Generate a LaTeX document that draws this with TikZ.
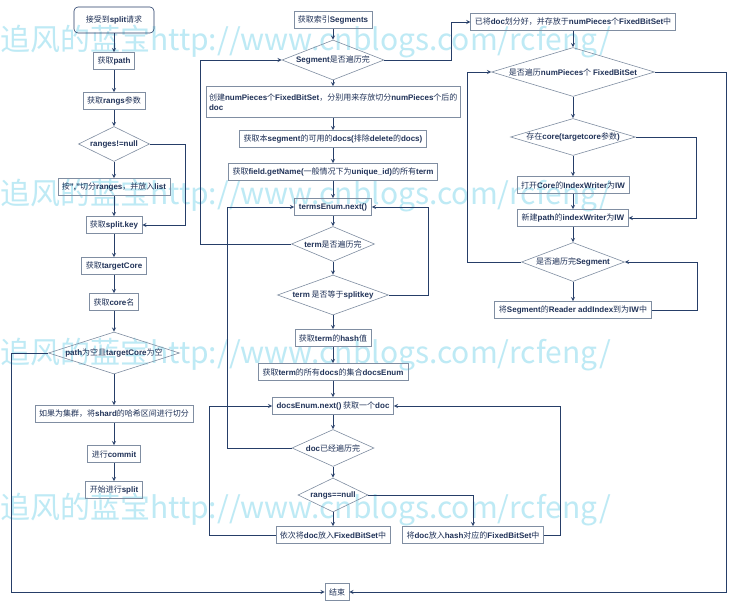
\documentclass[tikz,border=0pt]{standalone}
\usepackage{fontspec}
\setmainfont{Noto Sans CJK SC}[BoldFont={Liberation Sans Bold}]
\usetikzlibrary{shapes.geometric}

\definecolor{flowline}{RGB}{38,62,104}
\definecolor{boxline}{RGB}{128,142,162}
\definecolor{flowtext}{RGB}{32,50,88}
\definecolor{stamp}{RGB}{190,234,245}

\tikzset{
  box/.style={draw=boxline, line width=0.6pt, text=flowtext, font=\fontsize{8}{10}\selectfont,
    inner xsep=4pt, inner ysep=2pt, minimum height=17pt},
  decision/.style={diamond, draw=boxline, line width=0.6pt, text=flowtext,
    font=\fontsize{8}{10}\selectfont, inner sep=0pt},
  flow/.style={draw=flowline, line width=0.9pt, ->},
  stamptext/.style={text=stamp, font=\fontsize{30}{30}\selectfont, anchor=west, inner sep=0pt}
}

\begin{document}
\begin{tikzpicture}[x=1pt, y=-1pt, >=stealth]
  \path[use as bounding box, fill=white] (0,0) rectangle (737,608);

  % watermark
  \foreach \y [count=\i] in {42,196,355,510}
    \node[stamptext] (stamp\i) at (0,\y) {追风的蓝宝http://www.cnblogs.com/rcfeng/};

  % left column
  \node[box, draw=flowline, rounded corners=4pt, minimum width=80pt, minimum height=26pt] (start) at (114,20) {接受到\textbf{split}请求};
  \node[box, minimum width=40pt] (getpath) at (114,61) {获取\textbf{path}};
  \node[box, minimum width=61pt] (getrangs) at (114,101) {获取\textbf{rangs}参数};
  \node[decision, minimum width=71pt, minimum height=35pt, aspect=2] (rangesnull) at (114,144) {\textbf{ranges!=null}};
  \node[box, minimum width=110pt] (splitlist) at (114,187) {按\textbf{","}切分\textbf{ranges}，并放入\textbf{list}};
  \node[box, minimum width=56pt] (splitkey) at (114,225) {获取\textbf{split.key}};
  \node[box, minimum width=63pt] (targetcore) at (114,266) {获取\textbf{targetCore}};
  \node[box, minimum width=49pt] (corename) at (114,302) {获取\textbf{core}名};
  \node[decision, minimum width=131pt, minimum height=42pt, aspect=3] (pathempty) at (114,353) {\textbf{path}为空且\textbf{targetCore}为空};
  \node[box, minimum width=156pt] (shard) at (114,414) {如果为集群，将\textbf{shard}的哈希区间进行切分};
  \node[box, minimum width=51pt] (commit) at (114,454) {进行\textbf{commit}};
  \node[box, minimum width=55pt] (dosplit) at (114,490) {开始进行\textbf{split}};
  \node[box, minimum width=24pt] (finish) at (337,592) {结束};

  % middle column
  \node[box, minimum width=77pt] (segments) at (333,20) {获取索引\textbf{Segments}};
  \node[decision, minimum width=102pt, minimum height=40pt, aspect=2.5] (segdone) at (333,60) {\textbf{Segment}是否遍历完};
  \node[box, inner xsep=3pt, text width=248pt, align=left, minimum height=31pt] (createbits) at (333,102)
    {创建\textbf{numPieces}个\textbf{FixedBitSet}，分别用来存放切分\textbf{numPieces}个后的\\\textbf{doc}};
  \node[box, minimum width=185pt] (livedocs) at (333,139) {获取本\textbf{segment}的可用的\textbf{docs(}排除\textbf{delete}的\textbf{docs)}};
  \node[box, minimum width=207pt] (allterms) at (333,172) {获取\textbf{field.getName(}一般情况下为\textbf{unique\_id)}的所有\textbf{term}};
  \node[box, minimum width=77pt] (termsnext) at (333,207) {\textbf{termsEnum.next()}};
  \node[decision, minimum width=83pt, minimum height=35pt, aspect=2.4] (termdone) at (333,244) {\textbf{term}是否遍历完};
  \node[decision, minimum width=111pt, minimum height=40pt, aspect=2.8] (termkey) at (333,295) {\textbf{term} 是否等于\textbf{splitkey}};
  \node[box, minimum width=75pt] (termhash) at (333,338) {获取\textbf{term}的\textbf{hash}值};
  \node[box, minimum width=150pt] (docsenum) at (333,372) {获取\textbf{term}的所有\textbf{docs}的集合\textbf{docsEnum}};
  \node[box, minimum width=121pt] (docsnext) at (333,406) {\textbf{docsEnum.next()} 获取一个\textbf{doc}};
  \node[decision, minimum width=82pt, minimum height=37pt, aspect=2.2] (docdone) at (333,448) {\textbf{doc}已经遍历完};
  \node[decision, minimum width=70pt, minimum height=34pt, aspect=2] (rangsnull) at (333,495) {\textbf{rangs==null}};
  \node[box, minimum width=113pt] (putbits) at (333,535) {依次将\textbf{doc}放入\textbf{FixedBitSet}中};
  \node[box, minimum width=140pt] (puthash) at (473,535) {将\textbf{doc}放入\textbf{hash}对应的\textbf{FixedBitSet}中};

  % right column
  \node[box, minimum width=203pt] (divided) at (573,22) {已将\textbf{doc}划分好，并存放于\textbf{numPieces}个\textbf{FixedBitSet}中};
  \node[decision, minimum width=163pt, minimum height=49pt, aspect=3.3] (piecesdone) at (573,72) {是否遍历\textbf{numPieces}个 \textbf{FixedBitSet}};
  \node[decision, minimum width=125pt, minimum height=37pt, aspect=3.3] (corexists) at (573,137) {存在\textbf{core(targetcore}参数\textbf{)}};
  \node[box, minimum width=110pt] (opencore) at (573,185) {打开\textbf{Core}的\textbf{IndexWriter}为\textbf{IW}};
  \node[box, minimum width=109pt] (newpath) at (573,218) {新建\textbf{path}的\textbf{indexWriter}为\textbf{IW}};
  \node[decision, minimum width=103pt, minimum height=39pt, aspect=2.6] (segtrav) at (573,262) {是否遍历完\textbf{Segment}};
  \node[box, minimum width=157pt] (addindex) at (573,310) {将\textbf{Segment}的\textbf{Reader addIndex}到为\textbf{IW}中};

  % straight flow
  \foreach \a/\b in {start/getpath, getpath/getrangs, getrangs/rangesnull, rangesnull/splitlist,
      splitlist/splitkey, splitkey/targetcore, targetcore/corename, corename/pathempty,
      pathempty/shard, shard/commit, commit/dosplit,
      segments/segdone, segdone/createbits, createbits/livedocs, livedocs/allterms,
      allterms/termsnext, termsnext/termdone, termdone/termkey, termkey/termhash,
      termhash/docsenum, docsenum/docsnext, docsnext/docdone, docdone/rangsnull, rangsnull/putbits,
      divided/piecesdone, piecesdone/corexists, corexists/opencore, opencore/newpath,
      newpath/segtrav, segtrav/addindex}
    \draw[flow] (\a) -- (\b);

  % branches and loops
  \draw[flow] (rangesnull.east) -- ++(36,0) |- (splitkey.east);
  \draw[flow] (pathempty.west) -- ++(-37,0) |- (finish.west);
  \draw[flow] (segdone.east) -- ++(67,0) |- (divided.west);
  \draw[flow] (termdone.west) -- ++(-91,0) |- (segdone.west);
  \draw[flow] (termkey.east) -- ++(40,0) |- (termsnext.east);
  \draw[flow] (docdone.west) -- ++(-64,0) |- (termsnext.west);
  \draw[flow] (rangsnull.east) -| (puthash.north);
  \draw[flow] (putbits.west) -- ++(-66,0) |- (docsnext.west);
  \draw[flow] (puthash.east) -- ++(17,0) |- (docsnext.east);
  \draw[flow] (piecesdone.east) -- ++(72,0) |- (finish.east);
  \draw[flow] (corexists.east) -- ++(61,0) |- (newpath.east);
  \draw[flow] (addindex.east) -- ++(46,0) |- (segtrav.east);
  \draw[flow] (segtrav.west) -- ++(-54,0) |- (piecesdone.west);
\end{tikzpicture}
\end{document}
